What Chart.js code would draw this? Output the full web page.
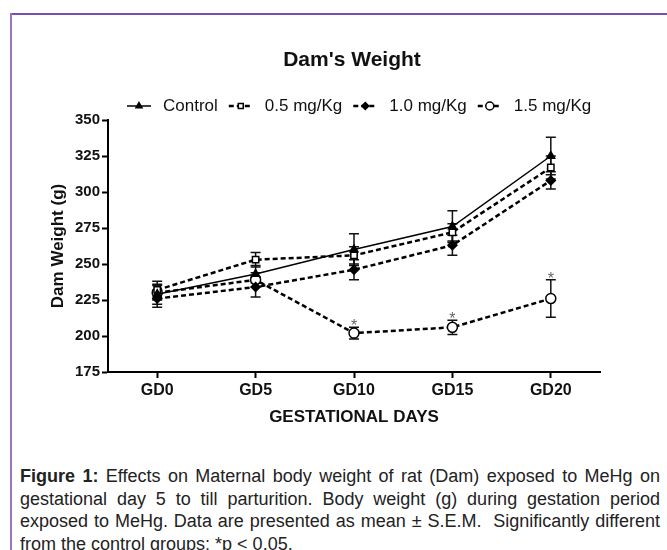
<!DOCTYPE html>
<html>
<head>
<meta charset="utf-8">
<script src="https://cdn.jsdelivr.net/npm/chart.js@4"></script>
<style>
body { margin: 0; background: #fff; width: 667px; height: 550px; overflow: hidden; position: relative; font-family: "Liberation Sans", Arial, sans-serif; }
#frameTop { position: absolute; left: 10px; top: 13px; width: 657px; height: 2px; background: #7b4cb4; }
#frameLeft { position: absolute; left: 10px; top: 13px; width: 2px; height: 537px; background: #9575c4; }
#chart { position: absolute; left: 0; top: 0; }
#caption { position: absolute; left: 20px; top: 465px; width: 640px; font-family: "Liberation Sans Narrow", "Liberation Sans", Arial, sans-serif; font-size: 18px; line-height: 22.7px; color: #222; }
#caption div { text-align: justify; text-align-last: justify; white-space: nowrap; }
#caption div.last { text-align-last: left; }
</style>
</head>
<body>
<div id="frameTop"></div>
<div id="frameLeft"></div>
<canvas id="chart" width="667" height="440"></canvas>
<div id="caption">
  <div><b>Figure 1:</b> Effects on Maternal body weight of rat (Dam) exposed to MeHg on</div>
  <div>gestational day 5 to till parturition. Body weight (g) during gestation period</div>
  <div>exposed to MeHg. Data are presented as mean ± S.E.M.&nbsp; Significantly different</div>
  <div class="last">from the control groups: *p &lt; 0.05.</div>
</div>
<script>
const days = ['GD0', 'GD5', 'GD10', 'GD15', 'GD20'];

const control = [229, 243, 260, 276, 325];
const controlErr = [7, 6, 11, 11, 13];
const dose05 = [232, 253, 256, 272, 317];
const dose05Err = [6, 5, 6, 6, 8];
const dose10 = [226, 234, 246, 263, 308];
const dose10Err = [6, 7, 7, 7, 6];
const dose15 = [230, 239, 202, 206, 226];
const dose15Err = [5, 5, 4, 5, 13];
const dose15Sig = [false, false, true, true, true];

const FONT = '"Liberation Sans", Arial, sans-serif';

// error bars, drawn under the markers
const errorBars = {
    id: 'errorBars',
    beforeDatasetsDraw(chart) {
        const ctx = chart.ctx;
        const y = chart.scales.y;
        ctx.save();
        ctx.strokeStyle = '#111';
        ctx.lineWidth = 1.5;
        chart.data.datasets.forEach((ds, di) => {
            const meta = chart.getDatasetMeta(di);
            meta.data.forEach((pt, i) => {
                const top = y.getPixelForValue(ds.data[i] + ds.err[i]);
                const bot = y.getPixelForValue(ds.data[i] - ds.err[i]);
                ctx.beginPath();
                ctx.moveTo(pt.x, top); ctx.lineTo(pt.x, bot);
                ctx.moveTo(pt.x - 5, top); ctx.lineTo(pt.x + 5, top);
                ctx.moveTo(pt.x - 5, bot); ctx.lineTo(pt.x + 5, bot);
                ctx.stroke();
            });
        });
        ctx.restore();
    },
    afterDatasetsDraw(chart) {
        const ctx = chart.ctx;
        const y = chart.scales.y;
        const ds = chart.data.datasets[3];
        const meta = chart.getDatasetMeta(3);
        ctx.save();
        ctx.fillStyle = '#666';
        ctx.font = '16px ' + FONT;
        ctx.textAlign = 'center';
        ctx.textBaseline = 'alphabetic';
        meta.data.forEach((pt, i) => {
            if (!dose15Sig[i]) return;
            const top = y.getPixelForValue(ds.data[i] + ds.err[i]);
            ctx.fillText('*', pt.x, top + 4);
        });
        ctx.restore();
    }
};

// title and legend (line sample with marker in the middle)
const titleLegend = {
    id: 'titleLegend',
    afterDraw(chart) {
        const ctx = chart.ctx;
        ctx.save();
        ctx.fillStyle = '#111';
        ctx.font = 'bold 21px ' + FONT;
        ctx.textAlign = 'center';
        ctx.textBaseline = 'middle';
        ctx.fillText("Dam's Weight", 352, 60);

        ctx.font = '17px ' + FONT;
        ctx.textAlign = 'left';
        let x = 127;
        const ly = 106;
        chart.data.datasets.forEach(ds => {
            ctx.strokeStyle = '#000';
            ctx.lineWidth = ds.borderWidth;
            ctx.setLineDash(ds.borderDash || []);
            ctx.beginPath();
            ctx.moveTo(x, ly); ctx.lineTo(x + 24, ly);
            ctx.stroke();
            ctx.setLineDash([]);
            ctx.fillStyle = ds.pointBackgroundColor;
            ctx.lineWidth = ds.pointBorderWidth;
            Chart.helpers.drawPoint(ctx, {
                pointStyle: ds.pointStyle, rotation: 0,
                radius: ds.pointRadius - 1, borderWidth: ds.pointBorderWidth
            }, x + 12, ly);
            ctx.fillStyle = '#111';
            ctx.fillText(ds.label, x + 36, ly);
            x += 36 + ctx.measureText(ds.label).width + 11;
        });
        ctx.restore();
    }
};

function makeSet(label, data, err, style, fill, dashed) {
    return {
        label: label,
        data: data,
        err: err,
        borderColor: '#000',
        borderWidth: dashed ? 2.5 : 1.5,
        borderDash: dashed ? [5, 3] : [],
        tension: 0,
        fill: false,
        pointStyle: style,
        pointRadius: style === 'circle' ? 5 : 4.5,
        pointBackgroundColor: fill,
        pointBorderColor: '#000',
        pointBorderWidth: 1.5
    };
}

new Chart(document.getElementById('chart'), {
    type: 'line',
    data: {
        labels: days,
        datasets: [
            makeSet('Control', control, controlErr, 'triangle', '#000', false),
            makeSet('0.5 mg/Kg', dose05, dose05Err, 'rect', '#fff', true),
            makeSet('1.0 mg/Kg', dose10, dose10Err, 'rectRot', '#000', true),
            makeSet('1.5 mg/Kg', dose15, dose15Err, 'circle', '#fff', true)
        ]
    },
    options: {
        responsive: false,
        animation: false,
        layout: { padding: { left: 0, right: 67, top: 120, bottom: 0 } },
        scales: {
            x: {
                offset: true,
                grid: { drawOnChartArea: false, tickLength: 6, tickWidth: 2, tickColor: '#000' },
                border: { color: '#000', width: 2 },
                ticks: { color: '#111', padding: 3, font: { family: FONT, size: 16, weight: 'bold' } },
                title: {
                    display: true, text: 'GESTATIONAL DAYS', color: '#111',
                    font: { family: FONT, size: 17, weight: 'bold' },
                    padding: { top: 4, bottom: 12 }
                },
                afterFit(scale) { scale.height = 68; }
            },
            y: {
                min: 175,
                max: 350,
                grid: { drawOnChartArea: false, tickLength: 6, tickWidth: 2, tickColor: '#000' },
                border: { color: '#000', width: 2 },
                ticks: { stepSize: 25, color: '#111', padding: 2, font: { family: FONT, size: 15, weight: 'bold' } },
                title: {
                    display: true, text: 'Dam Weight (g)', color: '#111',
                    font: { family: FONT, size: 17, weight: 'bold' },
                    padding: { top: 48, bottom: 0 }
                },
                afterFit(scale) { scale.width = 108; }
            }
        },
        plugins: {
            legend: { display: false },
            title: { display: false },
            tooltip: { enabled: false }
        }
    },
    plugins: [errorBars, titleLegend]
});
</script>
</body>
</html>
